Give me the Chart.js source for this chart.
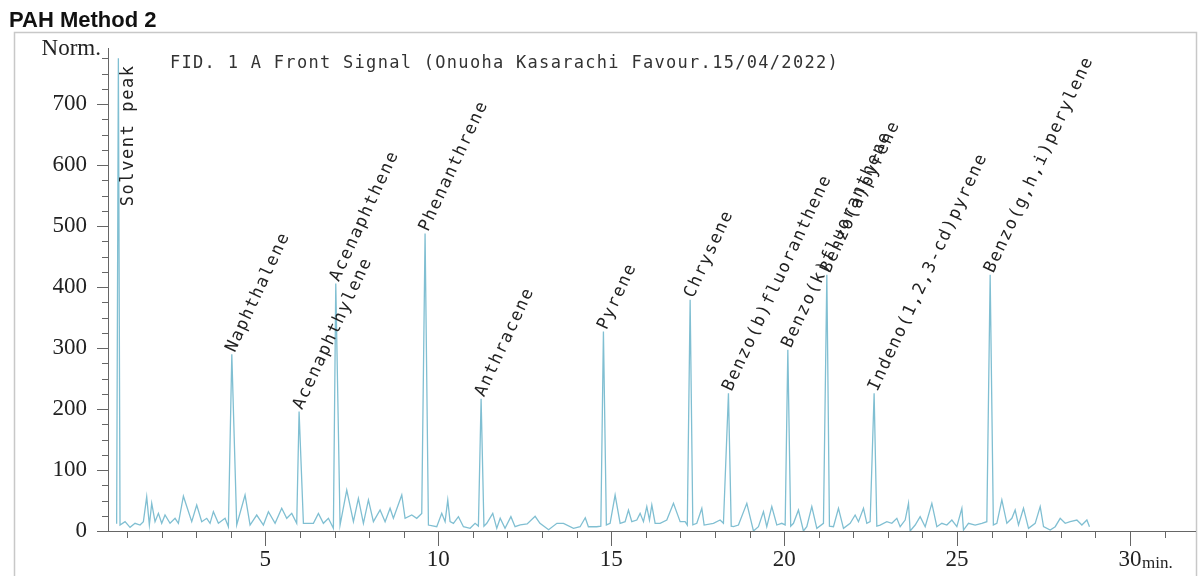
<!DOCTYPE html>
<html>
<head>
<meta charset="utf-8">
<script src="https://cdn.jsdelivr.net/npm/chart.js@4.4.1/dist/chart.umd.min.js"></script>
<style>
  html, body { margin: 0; padding: 0; background: #fff; }
  #wrap { position: relative; width: 1199px; height: 576px; }
</style>
</head>
<body>
<div id="wrap"><canvas id="c"></canvas></div>
<script>
// ---- Chromatogram data -------------------------------------------------
const chartTitle = 'PAH Method 2';
const signalTitle = 'FID. 1 A Front Signal (Onuoha Kasarachi Favour.15/04/2022)';

// Named peaks: retention time (min) and apex response (Norm.)
const peakNames = ['Solvent peak', 'Naphthalene', 'Acenaphthylene', 'Acenaphthene',
  'Phenanthrene', 'Anthracene', 'Pyrene', 'Chrysene', 'Benzo(b)fluoranthene',
  'Benzo(k)fluoranthene', 'Benzo(a)pyrene', 'Indeno(1,2,3-cd)pyrene', 'Benzo(g,h,i)perylene'];
const peakTimes = [0.75, 4.03, 5.975, 7.036, 9.618, 11.238, 14.775, 17.282, 18.39,
  20.107, 21.235, 22.602, 25.957];
const peakHeights = [775, 290, 196, 406, 488, 217, 327, 379, 226, 297, 420, 226, 420];

// Baseline / minor-peak trace between the named peaks
const baseTimes = [0.70,
  0.798, 0.943, 1.087, 1.232, 1.377, 1.473, 1.569, 1.646, 1.714, 1.810, 1.907, 2.003, 2.099,
  2.244, 2.389, 2.485, 2.630, 2.871, 3.015, 3.160, 3.305, 3.401, 3.497, 3.642, 3.835, 3.931,
  4.172, 4.413, 4.558, 4.750, 4.943, 5.088, 5.281, 5.473, 5.618, 5.763, 5.907,
  6.100, 6.389, 6.534, 6.678, 6.823, 6.967,
  7.160, 7.353, 7.546, 7.690, 7.835, 7.980, 8.124, 8.317, 8.462, 8.606, 8.702, 8.944, 9.040,
  9.233, 9.377, 9.522,
  9.715, 9.956, 10.100, 10.197, 10.274, 10.341, 10.438, 10.582, 10.727, 10.920, 11.064, 11.16,
  11.32, 11.402, 11.575, 11.691, 11.79, 11.93, 12.10, 12.22, 12.37, 12.57, 12.80, 12.94, 13.19,
  13.43, 13.62, 13.91, 14.10, 14.25, 14.34, 14.58, 14.70,
  14.86, 14.968, 15.113, 15.258, 15.402, 15.499, 15.595, 15.740, 15.836, 15.932, 16.029, 16.106,
  16.174, 16.270, 16.414, 16.607, 16.800, 16.993, 17.137, 17.20,
  17.36, 17.475, 17.620, 17.687, 17.955, 18.149, 18.245,
  18.47, 18.534, 18.679, 18.921, 19.113, 19.257, 19.402, 19.498, 19.643, 19.788, 19.932, 20.03,
  20.19, 20.270, 20.414, 20.558, 20.655, 20.800, 20.945, 21.137,
  21.31, 21.427, 21.571, 21.716, 21.909, 22.053, 22.149, 22.294, 22.391, 22.487,
  22.68, 22.776, 22.969, 23.114, 23.259, 23.355, 23.499, 23.596, 23.644, 23.789, 23.933, 24.078,
  24.271, 24.416, 24.560, 24.705, 24.850, 24.994, 25.139, 25.186, 25.330, 25.523, 25.716, 25.861,
  26.05, 26.151, 26.295, 26.440, 26.585, 26.680, 26.777, 26.921, 27.066, 27.259, 27.404, 27.500,
  27.693, 27.838, 27.982, 28.127, 28.271, 28.464, 28.609, 28.754, 28.829];
const baseSignal = [12,
  9.8, 15.3, 6, 12.6, 9.8, 15.3, 56, 9.8, 45.4, 15.3, 28.9, 12.6, 26.2,
  12.6, 20.8, 12.6, 57, 15.3, 42.6, 15.3, 20.8, 12.6, 31.7, 12.6, 20.8, 7.1,
  9.8, 59, 9.8, 26.2, 9.8, 31.7, 12.6, 37.2, 20.8, 28.9, 12.6,
  12.6, 12.6, 28.9, 12.6, 20.8, 4.4,
  9.8, 67, 15.3, 53.5, 12.6, 51, 15.3, 34.4, 15.3, 37.2, 20.8, 59, 20.8,
  26.2, 20.8, 28.9,
  9.8, 7.1, 28.9, 15.3, 51, 15.3, 12.6, 23.5, 7.1, 4.4, 12.6, 8,
  8, 12.6, 29, 4.4, 21, 4.4, 23.5, 7, 10, 11.5, 24, 12.6, 2,
  12.6, 12.6, 4.4, 7, 21.8, 7, 7, 8,
  10, 12.6, 59, 12.6, 15.3, 34.4, 15.3, 18, 28.9, 15.3, 39.9, 18,
  42.6, 12.6, 12.6, 18, 45.4, 15.3, 15.3, 9.8,
  10, 12.6, 37.2, 9.8, 12.6, 18, 12.6,
  8, 7.1, 9.8, 45.4, 0, 7.1, 31.7, 7.1, 39.9, 9.8, 12.6, 10,
  8, 12.6, 34.4, 0, 7.1, 40, 4.4, 12.6,
  8, 7.1, 37.2, 4.4, 12.6, 26.2, 15.3, 37.2, 12.6, 15.3,
  8, 9.8, 15.3, 12.6, 20.8, 7.1, 18, 45.4, 0, 9.8, 23.5, 7.1,
  45.4, 7.1, 12.6, 9.8, 18, 7.1, 37.2, 1.6, 12.6, 9.8, 12.6, 15.3,
  10, 12.6, 51, 12.6, 20.8, 34.4, 9.8, 37.2, 4.4, 12.6, 40, 7.1,
  1.6, 7.1, 20.8, 12.6, 15.3, 18, 9.8, 18, 7.1];

// Axis ticks
const xTickLabels = [5, 10, 15, 20, 25, 30];
const yTickLabels = [0, 100, 200, 300, 400, 500, 600, 700];
const xMinorStep = 1;   // min
const yMinorStep = 25;  // Norm.

// ---- Build the trace ---------------------------------------------------
const trace = baseTimes.map((t, i) => ({ x: t, y: baseSignal[i] }))
  .concat(peakTimes.map((t, i) => ({ x: t, y: peakHeights[i] })))
  .sort((a, b) => a.x - b.x);

const xMin = 0.45, xMax = 31.88, yMin = 0, yMax = 792;
const xTickValues = [];
for (let v = Math.ceil(xMin); v <= xMax; v += xMinorStep) xTickValues.push(v);
const yTickValues = [];
for (let v = yMin; v <= yMax; v += yMinorStep) yTickValues.push(v);

const serif = '"Liberation Serif", "Times New Roman", serif';
const mono = '"DejaVu Sans Mono", monospace';

const decor = {
  id: 'decor',
  beforeDraw(chart) {
    const ctx = chart.ctx;
    ctx.save();
    ctx.fillStyle = '#fff';
    ctx.fillRect(0, 0, chart.width, chart.height);
    // outer frame
    ctx.strokeStyle = '#c8c8c8';
    ctx.lineWidth = 1.5;
    ctx.strokeRect(14.5, 32.5, 1182, 560);
    // document heading
    ctx.fillStyle = '#111';
    ctx.font = 'bold 22px "Liberation Sans", Arial, sans-serif';
    ctx.textBaseline = 'alphabetic';
    ctx.fillText(chartTitle, 9, 27);
    ctx.restore();
  },
  afterDraw(chart) {
    const ctx = chart.ctx;
    const xs = chart.scales.x, ys = chart.scales.y;
    const area = chart.chartArea;
    ctx.save();

    // tick marks
    ctx.strokeStyle = '#666';
    ctx.lineWidth = 1;
    ctx.beginPath();
    xs.ticks.forEach(t => {
      const px = Math.round(xs.getPixelForValue(t.value)) + 0.5;
      const len = xTickLabels.includes(t.value) ? 15 : 7;
      ctx.moveTo(px, area.bottom);
      ctx.lineTo(px, area.bottom + len);
    });
    ys.ticks.forEach(t => {
      const py = Math.round(ys.getPixelForValue(t.value)) + 0.5;
      const len = yTickLabels.includes(t.value) ? 11 : 6;
      ctx.moveTo(area.left - len, py);
      ctx.lineTo(area.left, py);
    });
    ctx.stroke();

    // axis units
    ctx.fillStyle = '#222';
    ctx.font = '23px ' + serif;
    ctx.textAlign = 'right';
    ctx.textBaseline = 'alphabetic';
    ctx.fillText('Norm.', area.left - 7, 55);
    ctx.font = '17px ' + serif;
    ctx.textAlign = 'left';
    ctx.fillText('min.', xs.getPixelForValue(30) + 12, 568);

    // signal description
    ctx.font = '17px ' + mono;
    ctx.letterSpacing = '1.3px';
    ctx.fillStyle = '#333';
    ctx.textBaseline = 'middle';
    ctx.fillText(signalTitle, 170, 64);

    // peak annotations
    ctx.fillStyle = '#222';
    ctx.letterSpacing = '1.6px';
    peakNames.forEach((name, i) => {
      const px = xs.getPixelForValue(peakTimes[i]);
      const py = ys.getPixelForValue(peakHeights[i]);
      ctx.save();
      if (i === 0) {
        ctx.translate(px + 10, py + 148);
        ctx.rotate(-Math.PI / 2);
      } else {
        ctx.translate(px - 1, py - 3);
        ctx.rotate(-65 * Math.PI / 180);
      }
      ctx.textBaseline = 'middle';
      ctx.textAlign = 'left';
      ctx.fillText(name, 0, 0);
      ctx.restore();
    });
    ctx.restore();
  }
};

new Chart(document.getElementById('c'), {
  type: 'line',
  data: {
    datasets: [{
      data: trace,
      borderColor: '#80bfd2',
      borderWidth: 1.3,
      pointRadius: 0,
      tension: 0,
      fill: false
    }]
  },
  options: {
    responsive: true,
    maintainAspectRatio: false,
    animation: false,
    devicePixelRatio: 1,
    layout: { padding: { left: 0, top: 48, right: 4, bottom: 0 } },
    plugins: { legend: { display: false }, tooltip: { enabled: false } },
    scales: {
      x: {
        type: 'linear',
        min: xMin,
        max: xMax,
        afterBuildTicks: s => { s.ticks = xTickValues.map(v => ({ value: v })); },
        afterFit: s => { s.height = 45; s.paddingLeft = 0; s.paddingRight = 0; },
        grid: { display: false },
        border: { display: true, color: '#666', width: 1 },
        ticks: {
          autoSkip: false,
          maxRotation: 0,
          padding: 7,
          color: '#222',
          font: { family: serif, size: 23 },
          callback: v => xTickLabels.includes(v) ? String(v) : ''
        }
      },
      y: {
        type: 'linear',
        min: yMin,
        max: yMax,
        afterBuildTicks: s => { s.ticks = yTickValues.map(v => ({ value: v })); },
        afterFit: s => { s.width = 108; s.paddingTop = 0; s.paddingBottom = 0; },
        grid: { display: false },
        border: { display: true, color: '#666', width: 1 },
        ticks: {
          autoSkip: false,
          padding: 13,
          color: '#222',
          font: { family: serif, size: 23 },
          callback: v => yTickLabels.includes(v) ? String(v) : ''
        }
      }
    }
  },
  plugins: [decor]
});
</script>
</body>
</html>
